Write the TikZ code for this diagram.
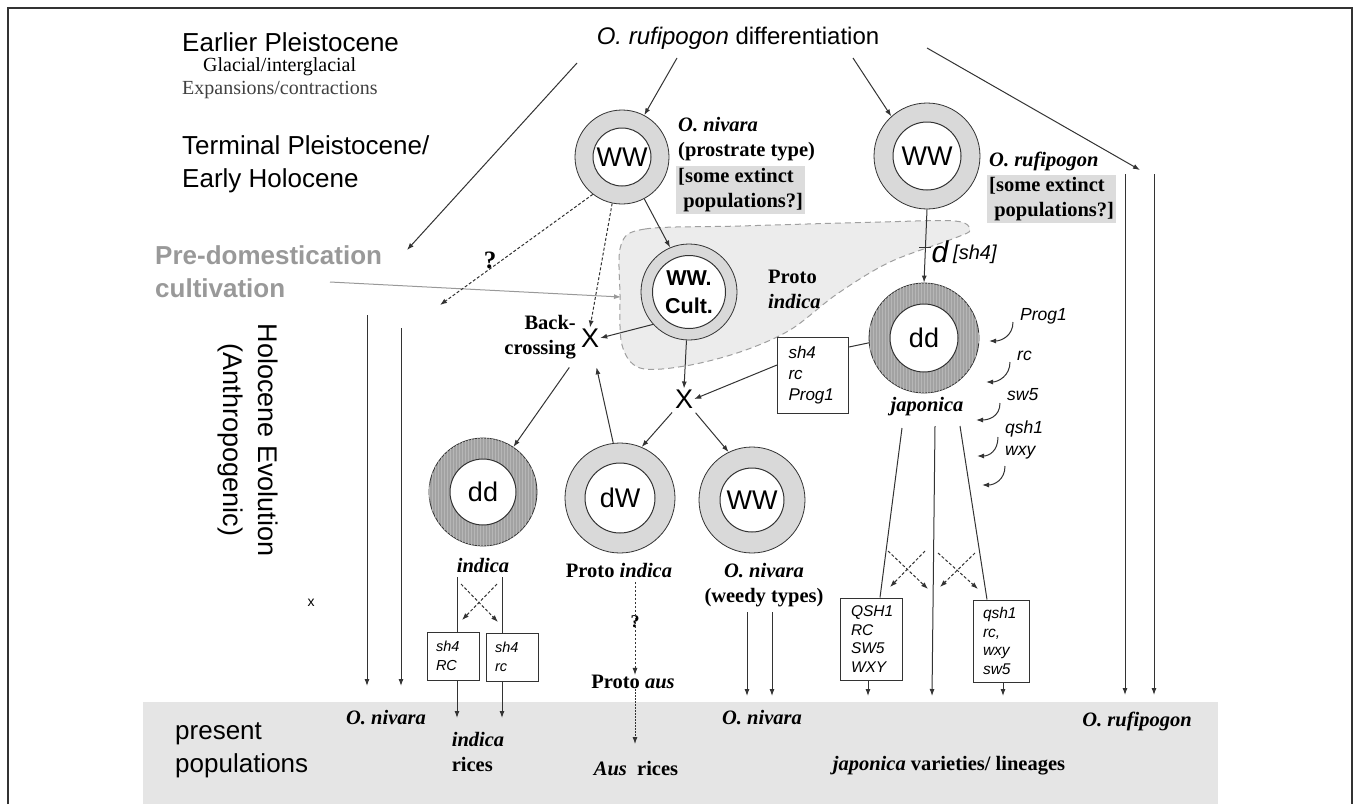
\documentclass[tikz,border=0pt]{standalone}
\usepackage{fontspec}
\setmainfont{Liberation Serif}
\setsansfont{Liberation Sans}
\usetikzlibrary{arrows.meta,patterns}
\definecolor{ln}{HTML}{333333}
\definecolor{ringL}{HTML}{D9D9D9}
\definecolor{ringD}{HTML}{A2A2A2}
\definecolor{stripe}{HTML}{B6B6B6}
\definecolor{band}{HTML}{E5E5E5}
\definecolor{blobc}{HTML}{ECECEC}
\definecolor{pregray}{HTML}{999999}
\definecolor{bgbox}{HTML}{DCDCDC}
\begin{document}
\begin{tikzpicture}[x=1pt,y=-1pt,
  >={Latex[length=7pt,width=5pt]},
  ar/.style={->,draw=ln,line width=1pt},
  dar/.style={->,draw=ln,line width=1pt,dash pattern=on 3pt off 2pt},
  ringl/.style={circle,draw=ln,line width=0.8pt,fill=ringL,inner sep=0pt},
  ringd/.style={circle,draw=ln,line width=0.8pt,fill=ringD,postaction={pattern=vertical lines,pattern color=stripe},inner sep=0pt},
  core/.style={circle,draw=ln,line width=1pt,fill=white,inner sep=0pt,font=\sffamily\fontsize{27}{30}\selectfont},
  sansL/.style={inner sep=0pt,font=\sffamily\fontsize{26}{33}\selectfont,align=left},
  serR/.style={inner sep=0pt,font=\rmfamily\fontsize{20}{24}\selectfont},
  serB/.style={inner sep=0pt,font=\rmfamily\bfseries\fontsize{20.5}{25}\selectfont,align=left},
  gene/.style={inner sep=0pt,font=\sffamily\itshape\fontsize{17.5}{22}\selectfont,align=left},
  gbox/.style={draw=ln,line width=1pt,fill=white,inner sep=0pt,align=left,font=\sffamily\itshape\fontsize{15.5}{18.5}\selectfont},
  crossX/.style={inner sep=1pt,font=\sffamily\fontsize{27}{30}\selectfont},
]
\useasboundingbox (0,0) rectangle (1357,804);
% band and frame
\fill[band] (143,702) rectangle (1218,804);
\draw[ln,line width=1.2pt] (8,804) -- (8,8) -- (1352,8) -- (1352,804);

% blob (pre-domestication cultivation zone)
\filldraw[fill=blobc,draw=gray!75,line width=1pt,dash pattern=on 6pt off 4pt]
  plot[smooth cycle,tension=0.55] coordinates {(621,245) (645,229) (740,226) (880,222) (955,221) (970,230) (955,238) (890,262) (837,294) (790,330) (740,352) (685,366) (640,368) (622,345) (620,295)};

% grey backgrounds for the extinct-population notes
\node[serB,fill=bgbox,inner sep=2pt,anchor=north west] (nivx) at (676,166) {[some extinct\\\ populations?]};
\node[serB,fill=bgbox,inner sep=2pt,anchor=north west] (rufx) at (987,175) {[some extinct\\\ populations?]};

% rings
\node[ringl,minimum size=94pt] (niv) at (622,157) {};
\node[core,minimum size=58pt] (nivc) at (niv) {WW};
\node[ringl,minimum size=106pt] (ruf) at (927,156) {};
\node[core,minimum size=68pt] (rufc) at (ruf) {WW};
\node[ringl,minimum size=96pt] (cult) at (689,292) {};
\node[core,minimum size=73pt,align=center,font=\sffamily\bfseries\fontsize{21.5}{28}\selectfont] (cultc) at (cult) {WW.\\Cult.};
\node[ringd,minimum size=110pt] (ddj) at (924,338) {};
\node[core,minimum size=68pt] (ddjc) at (ddj) {dd};
\node[ringd,minimum size=108pt] (ddi) at (483,492) {};
\node[core,minimum size=66pt] (ddic) at (ddi) {dd};
\node[ringl,minimum size=110pt] (dw) at (620,498) {};
\node[core,minimum size=70pt] (dwc) at (dw) {dW};
\node[ringl,minimum size=106pt] (wwe) at (752,500) {};
\node[core,minimum size=64pt] (wwec) at (wwe) {WW};

% left texts
\node[sansL,anchor=west] (ep) at (182,42) {Earlier Pleistocene};
\node[serR,anchor=west] (gi) at (203,67) {Glacial/interglacial};
\node[serR,anchor=west,text=black!75] (ec) at (182,90) {Expansions/contractions};
\node[sansL,anchor=west] (tp) at (182,164) {Terminal Pleistocene/\\Early Holocene};
\node[sansL,anchor=west,font=\sffamily\bfseries\fontsize{26}{33}\selectfont,text=pregray] (pre) at (155,272) {Pre-domestication\\cultivation};
\node[sansL,rotate=-90,align=center,font=\sffamily\fontsize{27}{35}\selectfont] (hol) at (248,440) {Holocene Evolution\\(Anthropogenic)};
\node[inner sep=0pt,font=\sffamily\fontsize{14}{16}\selectfont] (xx) at (311,603) {x};
\node[sansL,anchor=west] (pp) at (175,750) {present\\populations};

% title
\node[inner sep=0pt,font=\sffamily\fontsize{24}{28}\selectfont] (title) at (738,38) {\textit{O. rufipogon} differentiation};
\coordinate (t1) at (577,63);
\coordinate (t2) at (677,58);
\coordinate (t3) at (853,58);
\coordinate (t4) at (927,48);
\coordinate (e1) at (407,250);
\coordinate (e4) at (1140,170);
\draw[ar] (t1) -- (e1);
\draw[ar] (t2) -- (niv.62);
\draw[ar] (t3) -- (ruf.132);
\draw[ar] (t4) -- (e4);

% labels near top rings
\node[serB,anchor=north west] (nivl) at (678,117) {\textit{O. nivara}\\(prostrate type)};
\node[serB,anchor=west] (rufl) at (989,161) {\textit{O. rufipogon}};

% long verticals
\coordinate (r1a) at (1125,174); \coordinate (r1b) at (1125,695);
\coordinate (r2a) at (1154,174); \coordinate (r2b) at (1154,695);
\draw[ar] (r1a) -- (r1b);
\draw[ar] (r2a) -- (r2b);
\coordinate (l1a) at (367,315); \coordinate (l1b) at (367,686);
\coordinate (l2a) at (401,328); \coordinate (l2b) at (401,686);
\draw[ar] (l1a) -- (l1b);
\draw[ar] (l2a) -- (l2b);

% pre-domestication pointer
\coordinate (p0) at (330,282);
\coordinate (p1) at (621,297);
\draw[->,draw=pregray,line width=1pt] (p0) -- (p1);

% backcrossing
\node[crossX] (X1) at (590,338) {X};
\node[serB,anchor=east,align=right] (bc) at (576,337) {Back-\\crossing};
\node[crossX] (X2) at (684,399) {X};
\node[inner sep=0pt,font=\rmfamily\bfseries\fontsize{25}{28}\selectfont] (q1) at (490,260) {?};
\coordinate (e2) at (440,305);
\draw[dar] (niv.232) -- (e2);
\draw[dar] (niv.258) -- (X1.north);
\draw[ar] (niv.-62) -- (cult.113);
\draw[ar] (cult.222) -- (X1.east);
\draw[ar] (cult.-93) -- (X2.north);
\node[serB,anchor=west] (pil) at (768,289) {Proto\\\textit{indica}};

% japonica side
\draw[ar] (ruf.south) -- (ddj.north) coordinate[pos=0.52] (tk);
\draw[ln,line width=1pt] ([xshift=-6pt]tk) -- ([xshift=6pt]tk);
\node[inner sep=0pt,font=\sffamily\itshape\fontsize{30}{30}\selectfont] (dl) at (940,252) {d};
\node[inner sep=0pt,font=\sffamily\itshape\fontsize{20}{22}\selectfont,anchor=west] (shl) at (953,254) {[sh4]};
\node[gbox,minimum width=71pt,minimum height=76pt,text width=49pt,font=\sffamily\itshape\fontsize{17}{21}\selectfont] (box1) at (813,375) {sh4\\rc\\Prog1};
\draw[ln,line width=1pt] ([yshift=28pt]box1.east) -- (ddj.185);
\draw[ar] ([yshift=10pt]box1.west) -- (X2.east);
\node[serB,font=\rmfamily\bfseries\itshape\fontsize{20.5}{25}\selectfont] (jap) at (927,407) {japonica};

% curved arrows with genes
\coordinate (ca1) at (1013,322); \coordinate (cb1) at (989,341);
\coordinate (ca2) at (1010,362); \coordinate (cb2) at (986,382);
\coordinate (ca3) at (1000,403); \coordinate (cb3) at (976,420);
\coordinate (ca4) at (998,437); \coordinate (cb4) at (977,456);
\coordinate (ca5) at (1005,466); \coordinate (cb5) at (982,485);
\foreach \i in {1,...,5}{
  \draw[ar] (ca\i) .. controls ([yshift=-14pt]ca\i) and ([xshift=12pt]cb\i) .. (cb\i);
}
\node[gene,anchor=west] (g1) at (1020,316) {Prog1};
\node[gene,anchor=west] (g2) at (1017,356) {rc};
\node[gene,anchor=west] (g3) at (1007,395) {sw5};
\node[gene,anchor=west] (g4) at (1005,440) {qsh1\\wxy};

% japonica lines and boxes
\coordinate (j1) at (902,428);
\coordinate (j2) at (935,426);
\coordinate (j3) at (960,426);
\coordinate (j2e) at (932,696);
\node[gbox,minimum width=62pt,minimum height=82pt,text width=40pt] (qb) at (871,639) {QSH1\\RC\\SW5\\WXY};
\node[gbox,minimum width=56pt,minimum height=82pt,text width=36pt] (rb) at (1001,641) {qsh1\\rc,\\wxy\\sw5};
\draw[ln,line width=1pt] (j1) -- ([xshift=9pt]qb.north);
\draw[ar] (j2) -- (j2e);
\draw[ln,line width=1pt] (j3) -- ([xshift=-14pt]rb.north);
\coordinate (qbe) at (868,696);
\coordinate (rbe) at (1003,696);
\draw[ar] (qb.south -| qbe) -- (qbe);
\draw[ar] (rb.south -| rbe) -- (rbe);
\coordinate (c1a) at (888,551); \coordinate (c1b) at (928,589);
\coordinate (c1c) at (925,551); \coordinate (c1d) at (890,587);
\coordinate (c2a) at (938,553); \coordinate (c2b) at (978,589);
\coordinate (c2c) at (975,553); \coordinate (c2d) at (940,587);
\draw[dar] (c1a) -- (c1b);
\draw[dar] (c1c) -- (c1d);
\draw[dar] (c2a) -- (c2b);
\draw[dar] (c2c) -- (c2d);

% lower crosses
\draw[ar,shorten <=36pt] (X1.center) -- (ddi.56);
\draw[ar,shorten >=30pt] (dw.97) -- (X1.center);
\draw[ar,shorten <=18pt] (X2.center) -- (dw.67);
\draw[ar,shorten <=18pt] (X2.center) -- (wwe.116);

% indica branch
\node[serB,font=\rmfamily\bfseries\itshape\fontsize{20.5}{25}\selectfont] (indl) at (483,565) {indica};
\node[gbox,minimum width=52pt,minimum height=48pt,text width=34pt,font=\sffamily\itshape\fontsize{14.5}{19}\selectfont] (bi1) at (453,656) {sh4\\RC};
\node[gbox,minimum width=52pt,minimum height=48pt,text width=34pt,font=\sffamily\itshape\fontsize{14.5}{19}\selectfont] (bi2) at (512,657) {sh4\\rc};
\coordinate (i1) at (457,577);
\coordinate (i2) at (502,577);
\draw[ln,line width=1pt] (i1) -- ([xshift=4pt]bi1.north);
\draw[ln,line width=1pt] (i2) -- ([xshift=-10pt]bi2.north);
\coordinate (i1e) at (457,718);
\coordinate (i2e) at (502,718);
\draw[ar] ([xshift=4pt]bi1.south) -- (i1e);
\draw[ar] ([xshift=-10pt]bi2.south) -- (i2e);
\coordinate (d1a) at (461,584); \coordinate (d1b) at (498,622);
\coordinate (d1c) at (497,584); \coordinate (d1d) at (462,620);
\draw[dar] (d1a) -- (d1b);
\draw[dar] (d1c) -- (d1d);

% proto indica / aus
\node[serB] (pind) at (619,570) {Proto \textit{indica}};
\node[serB] (paus) at (633,682) {Proto \textit{aus}};
\node[inner sep=0pt,font=\rmfamily\bfseries\fontsize{18}{20}\selectfont] (q2) at (635,622) {?};
\coordinate (pa0) at (635,582);
\coordinate (pa1) at (635,744);
\draw[->,draw=ln,line width=0.9pt,dash pattern=on 2pt off 2pt] (pa0) -- (paus.north -| pa0);
\draw[->,draw=ln,line width=0.8pt,dash pattern=on 2pt off 1pt] (paus.south -| pa0) -- (pa1);
\node[serB] (ausr) at (636,768) {\textit{Aus}\ \ rices};

% weedy nivara
\node[serB,align=center] (weed) at (764,585) {\textit{O. nivara}\\(weedy types)};
\coordinate (w1a) at (747,612); \coordinate (w1b) at (747,696);
\coordinate (w2a) at (772,612); \coordinate (w2b) at (772,696);
\draw[ar] (w1a) -- (w1b);
\draw[ar] (w2a) -- (w2b);

% present-population labels
\node[serB] (pn1) at (386,718) {\textit{O. nivara}};
\node[serB,align=left] (pir) at (478,752) {\textit{indica}\\rices};
\node[serB] (pn2) at (762,718) {\textit{O. nivara}};
\node[serB] (pjap) at (949,766) {\textit{japonica} varieties/ lineages};
\node[serB] (pruf) at (1137,721) {\textit{O. rufipogon}};
\end{tikzpicture}
\end{document}
